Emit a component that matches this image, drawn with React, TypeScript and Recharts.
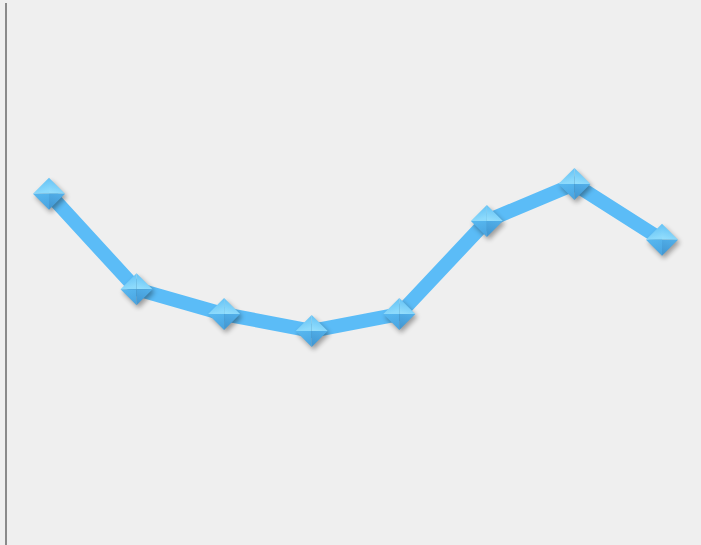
import { LineChart, Line, XAxis, YAxis } from "recharts"

const categories = ["1", "2", "3", "4", "5", "6", "7", "8"]
const values = [64.8, 47.2, 42.6, 39.5, 42.6, 59.8, 66.6, 56.3]

const data = categories.map((name, i) => ({ name, value: values[i] }))

const Diamond = (props: any) => {
  const { cx, cy, index } = props
  if (cx == null || cy == null) return null
  const r = 16
  return (
    <g key={`d-${index}`}>
      <polygon
        points={`${cx - r},${cy} ${cx},${cy - r} ${cx + r},${cy} ${cx},${cy + r}`}
        fill="#000"
        opacity={0.35}
        filter="url(#shadow)"
        transform="translate(2,3)"
      />
      <polygon points={`${cx - r},${cy} ${cx},${cy - r} ${cx},${cy}`} fill="url(#topLeft)" />
      <polygon points={`${cx},${cy - r} ${cx + r},${cy} ${cx},${cy}`} fill="url(#topRight)" />
      <polygon points={`${cx - r},${cy} ${cx},${cy} ${cx},${cy + r}`} fill="url(#botLeft)" />
      <polygon points={`${cx},${cy} ${cx + r},${cy} ${cx},${cy + r}`} fill="url(#botRight)" />
    </g>
  )
}

export default function App() {
  return (
    <div style={{ position: "absolute", left: 0, top: 0, width: 701, height: 545, background: "#efefef" }}>
      <LineChart width={701} height={545} data={data} margin={{ top: 3, right: 0, bottom: 0, left: 0 }}>
        <defs>
          <filter id="shadow" x="-50%" y="-50%" width="200%" height="200%">
            <feGaussianBlur stdDeviation="2.5" />
          </filter>
          <linearGradient id="topLeft" x1="0" y1="0" x2="0.3" y2="1">
            <stop offset="0%" stopColor="#58baf2" />
            <stop offset="100%" stopColor="#8cdafc" />
          </linearGradient>
          <linearGradient id="topRight" x1="0.7" y1="0" x2="0.4" y2="1">
            <stop offset="0%" stopColor="#5cbdf4" />
            <stop offset="100%" stopColor="#92ddfc" />
          </linearGradient>
          <linearGradient id="botLeft" x1="0" y1="0" x2="0.3" y2="1">
            <stop offset="0%" stopColor="#58b8f0" />
            <stop offset="100%" stopColor="#4aa6e2" />
          </linearGradient>
          <linearGradient id="botRight" x1="1" y1="0" x2="0.7" y2="1">
            <stop offset="0%" stopColor="#52b0ea" />
            <stop offset="100%" stopColor="#4399d4" />
          </linearGradient>
        </defs>
        <XAxis
          dataKey="name"
          hide
          padding={{ left: 43, right: 39 }}
        />
        <YAxis
          domain={[0, 100]}
          width={6}
          tick={false}
          tickLine={false}
          axisLine={{ stroke: "#8a8a8a", strokeWidth: 2 }}
        />
        <Line
          type="linear"
          dataKey="value"
          stroke="#5bbcf7"
          strokeWidth={14}
          dot={<Diamond />}
          activeDot={false}
          isAnimationActive={false}
        />
      </LineChart>
    </div>
  )
}
